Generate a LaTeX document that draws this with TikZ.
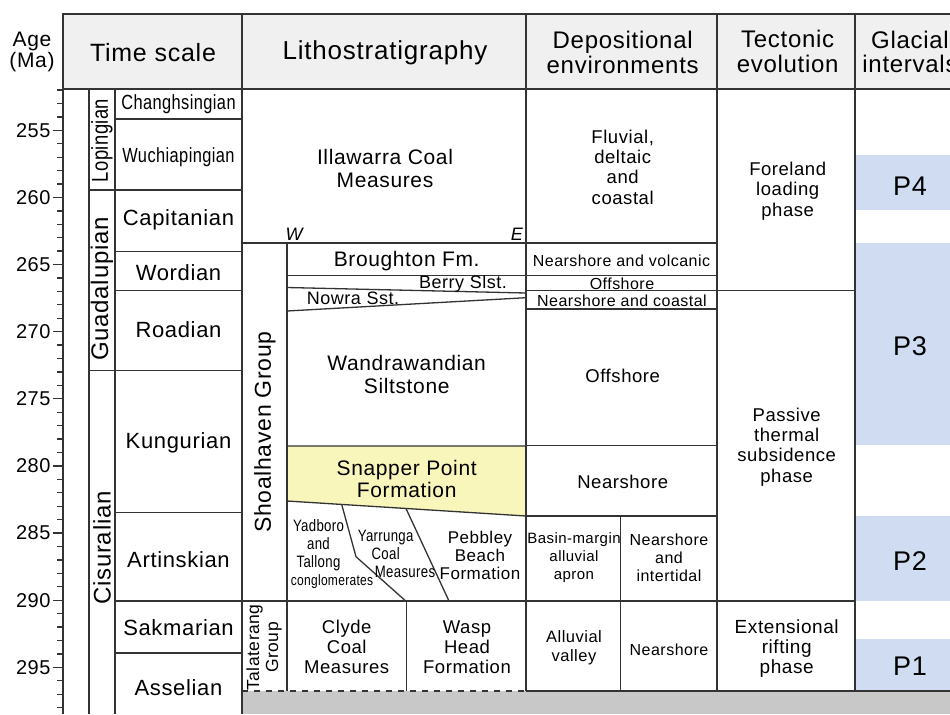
\documentclass[tikz,border=0pt]{standalone}
\usepackage{fontspec}
\setmainfont{Liberation Sans}[LetterSpace=3]
\newfontfamily\narrowfont{Liberation Sans}[FakeStretch=0.8,LetterSpace=2]
\definecolor{headgray}{HTML}{F0F0F0}
\definecolor{linegray}{HTML}{333333}
\definecolor{glacblue}{HTML}{CFDCF2}
\definecolor{snapyellow}{HTML}{F8F6BA}
\definecolor{basegray}{HTML}{C8C8C8}
\newcommand\ay[1]{130.3+(#1-255)*13.425}
\tikzset{
  rule/.style={draw=linegray, line width=0.65pt},
  lbl/.style={inner sep=0pt, align=center},
  headlbl/.style={lbl, font=\fontsize{12}{12.3}\selectfont},
  agelbl/.style={lbl, anchor=east, font=\fontsize{10}{12}\selectfont},
  stagelbl/.style={lbl, font=\fontsize{11}{12}\selectfont},
  narrowlbl/.style={lbl, font=\narrowfont\fontsize{10.25}{12}\selectfont},
  serieslbl/.style={lbl, rotate=90, font=\fontsize{12}{12}\selectfont},
  fmlbl/.style={lbl, font=\fontsize{10.5}{11.4}\selectfont},
  smallfm/.style={lbl, font=\narrowfont\fontsize{8.25}{9}\selectfont},
  envlbl/.style={lbl, font=\fontsize{9.25}{10.15}\selectfont},
  tinylbl/.style={lbl, font=\fontsize{8}{9}\selectfont},
  glaclbl/.style={lbl, font=\fontsize{13.5}{14}\selectfont}
}
\begin{document}
\begin{tikzpicture}[x=0.5pt, y=-0.5pt]
	\clip (0,0) rectangle (950,714);

	% fills
	\fill[headgray] (63,14) rectangle (950,89);
	\fill[basegray] (242,691) rectangle (950,714);
	\foreach \ya/\yb in {155/210, 243/445, 515.7/601, 639.3/691}
	    \fill[glacblue] (855,\ya) rectangle (950,\yb);
	\filldraw[rule, fill=snapyellow] (287,446) -- (526,446) -- (526,516) -- (287,501) -- cycle;

	% frame
	\draw[rule] (950,14) -- (63,14) -- (63,714);
	\draw[rule] (63,89) -- (950,89);
	\foreach \x in {242,526,717,855}
	    \draw[rule] (\x,14) -- (\x,89);
	\foreach \x in {89,115,242}
	    \draw[rule] (\x,89) -- (\x,714);
	\foreach \x in {526,717,855}
	    \draw[rule] (\x,89) -- (\x,691);

	% age axis
	\foreach \a in {252,...,298}
	    \draw[rule] (57,{\ay{\a}}) -- (63,{\ay{\a}});
	\foreach \a in {255,260,...,295}
	    {
		\draw[rule] (53,{\ay{\a}}) -- (63,{\ay{\a}});
		\node[agelbl] (age\a) at (51,{\ay{\a}}) {\a};
	    }

	% time scale
	\foreach \y in {190,370.7}
	    \draw[rule] (89,\y) -- (115,\y);
	\foreach \y in {119,190,251.3,290.7,370.7,512.7,601,653}
	    \draw[rule] (115,\y) -- (242,\y);

	% lithostratigraphy
	\draw[rule] (242,243) -- (526,243);
	\draw[rule] (287,243) -- (287,691);
	\draw[rule] (287,275.5) -- (526,275.5);
	\draw[rule] (287,287.5) -- (526,293);
	\draw[rule] (287,311) -- (526,297.7);
	\draw[rule] (341.7,504.4) -- (356,556.7) -- (405.7,601);
	\draw[rule] (406,508.5) -- (449,601);
	\draw[rule] (242,601) -- (855,601);
	\draw[rule] (406.7,601) -- (406.7,691);
	\draw[rule, dashed] (242,691) -- (526,691);
	\draw[rule] (526,691) -- (950,691);

	% depositional environments
	\foreach \y in {243,275.7,309,445.7,516}
	    \draw[rule] (526,\y) -- (717,\y);
	\draw[rule] (526,290.7) -- (855,290.7);
	\draw[rule] (620.7,516) -- (620.7,691);

	% headings
	\node[lbl, font=\fontsize{10.5}{10.65}\selectfont] (ageHead) at (32,52) {Age\\(Ma)};
	\node[headlbl, font=\fontsize{12.5}{12.3}\selectfont] (timeHead) at (153,53) {Time scale};
	\node[headlbl, font=\fontsize{13}{12.3}\selectfont] (lithoHead) at (385,53) {Lithostratigraphy};
	\node[headlbl] (depoHead) at (622.7,52.5) {Depositional\\environments};
	\node[headlbl] (tectHead) at (787.7,51.5) {Tectonic\\evolution};
	\node[headlbl] (glacHead) at (910,52) {Glacial\\intervals};

	% series and stages
	\node[serieslbl, font=\narrowfont\fontsize{11.5}{12}\selectfont] (Lopingian) at (102,140.5) {Lopingian};
	\node[serieslbl] (Guadalupian) at (102,289) {Guadalupian};
	\node[serieslbl] (Cisuralian) at (102,548) {Cisuralian};
	\node[narrowlbl] (Changhsingian) at (178.5,104.5) {Changhsingian};
	\node[narrowlbl] (Wuchiapingian) at (178.5,157) {Wuchiapingian};
	\foreach \y/\nm in {220/Capitanian, 273/Wordian, 330/Roadian, 443/Kungurian, 560/Artinskian, 628/Sakmarian, 688/Asselian}
	    \node[stagelbl] (\nm) at (178.5,\y) {\nm};

	% formations
	\node[fmlbl] (illawarra) at (385,168.5) {Illawarra Coal\\Measures};
	\node[lbl, font=\itshape\fontsize{9}{10}\selectfont] (west) at (294,234) {W};
	\node[lbl, font=\itshape\fontsize{9}{10}\selectfont] (east) at (517,234) {E};
	\node[serieslbl, font=\fontsize{11.5}{12}\selectfont] (shoalhaven) at (265,432) {Shoalhaven Group};
	\node[lbl, rotate=90, font=\fontsize{8.75}{9.5}\selectfont] (talaterang) at (264,647.5) {Talaterang\\Group};
	\node[fmlbl] (broughton) at (406.7,260.7) {Broughton Fm.};
	\node[lbl, font=\fontsize{9}{10}\selectfont] (berry) at (463,283.5) {Berry Slst.};
	\node[lbl, font=\fontsize{9}{10}\selectfont] (nowra) at (353,298.3) {Nowra Sst.};
	\node[fmlbl] (wandra) at (406.7,374.5) {Wandrawandian\\Siltstone};
	\node[fmlbl] (snapper) at (406.7,479) {Snapper Point\\Formation};
	\node[smallfm] (yadboro) at (318.5,545.5) {Yadboro\\and\\Tallong};
	\node[smallfm, font=\narrowfont\fontsize{7.5}{9}\selectfont] (congl) at (332,581.5) {conglomerates};
	\node[smallfm] (yarrunga) at (385.7,544.5) {Yarrunga\\Coal};
	\node[smallfm] (yarrMeas) at (405,571.5) {Measures};
	\node[lbl, font=\fontsize{8.5}{9}\selectfont] (pebbley) at (480,555) {Pebbley\\Beach\\Formation};
	\node[envlbl, font=\fontsize{9.25}{10}\selectfont] (clyde) at (346.7,647) {Clyde\\Coal\\Measures};
	\node[envlbl, font=\fontsize{9.25}{10}\selectfont] (wasp) at (467,647) {Wasp\\Head\\Formation};

	% environments
	\node[envlbl] (fluvial) at (622.7,167) {Fluvial,\\deltaic\\and\\coastal};
	\node[tinylbl] (nearVolc) at (621.5,261) {Nearshore and volcanic};
	\node[tinylbl] (offTop) at (622,283.5) {Offshore};
	\node[tinylbl] (nearCoast) at (622,301) {Nearshore and coastal};
	\node[envlbl] (offshore) at (622.7,376) {Offshore};
	\node[envlbl] (nearshore) at (622.7,482.3) {Nearshore};
	\node[lbl, font=\fontsize{7.5}{9}\selectfont] (basin) at (574,558) {Basin-margin\\alluvial\\apron};
	\node[tinylbl] (intertidal) at (669,558) {Nearshore\\and\\intertidal};
	\node[lbl, font=\fontsize{8.25}{9.3}\selectfont] (alluvial) at (574,647.5) {Alluvial\\valley};
	\node[tinylbl] (nearLow) at (669,649.3) {Nearshore};

	% tectonics
	\node[envlbl] (foreland) at (787.7,191) {Foreland\\loading\\phase};
	\node[envlbl] (passive) at (786.7,447) {Passive\\thermal\\subsidence\\phase};
	\node[envlbl, font=\fontsize{9.5}{10.15}\selectfont] (rifting) at (786.7,648.5) {Extensional\\rifting\\phase};

	% glacial intervals
	\foreach \y/\p in {186/4, 346.5/3, 561/2, 666.5/1}
	    \node[glaclbl] (P\p) at (910,\y) {P\p};
\end{tikzpicture}
\end{document}
